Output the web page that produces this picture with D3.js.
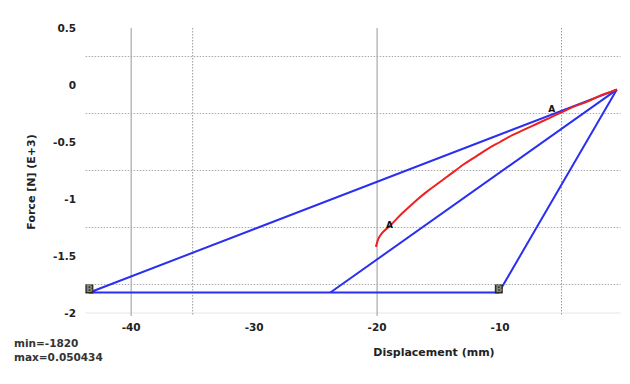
<!DOCTYPE html>
<html><head><meta charset="utf-8">
<script src="https://cdn.jsdelivr.net/npm/d3@7"></script>
<style>body{margin:0;background:#fff}svg{display:block}text{font-family:"DejaVu Sans",Verdana,sans-serif;font-weight:bold;fill:#222}</style>
</head><body>
<script>
// ---- data ----
const yTicks = [0.5, 0, -0.5, -1, -1.5, -2];
const xTicks = [-40, -30, -20, -10];
const xGridSolid = [-40, -20];
const xGridDotted = [-35, -5];
const yGridDotted = [0.25, -0.25, -0.75, -1.25, -1.75];
// blue loop (displacement mm, force kN)
const blueX = [-0.5, -43.4, -10.1, -0.5];
const blueY = [-0.04, -1.82, -1.82, -0.04];
const blue2X = [-23.8, -0.5];
const blue2Y = [-1.82, -0.04];
// red curve
const redX = [-20.1, -19.9, -19.6, -19.0, -18.0, -17.0, -16.0, -15.0, -14.0, -13.0, -12.0, -11.0, -10.0, -9.0, -8.0, -7.0, -6.0, -5.0, -4.0, -3.0, -2.0, -1.0, -0.5];
const redY = [-1.42, -1.35, -1.30, -1.24, -1.13, -1.03, -0.94, -0.86, -0.78, -0.70, -0.63, -0.56, -0.50, -0.44, -0.39, -0.34, -0.29, -0.24, -0.19, -0.15, -0.10, -0.06, -0.04];
// markers
const markLabels = ["A", "A", "B", "B"];
const markX = [-5.8, -19.0, -43.4, -10.1];
const markY = [-0.24, -1.25, -1.82, -1.82];
const minMax = ["min=-1820", "max=0.050434"];
const xTitle = "Displacement (mm)";
const yTitle = "Force [N] (E+3)";

const W = 630, H = 384;
const svg = d3.select("body").append("svg").attr("width", W).attr("height", H);
const x = d3.scaleLinear().domain([-44, 0]).range([82, 623]);
const y = d3.scaleLinear().domain([-2, 0.5]).range([313, 28]);
const xL = x(-43.7), xR = x(-0.2);

// grid
svg.append("line").attr("x1", xL).attr("x2", xR).attr("y1", y(-2)).attr("y2", y(-2))
  .attr("stroke", "#e6e6e6").attr("stroke-width", 1);
svg.selectAll(".hg").data(yGridDotted).join("line")
  .attr("x1", xL).attr("x2", xR).attr("y1", d => y(d)).attr("y2", d => y(d))
  .attr("stroke", "#aaa").attr("stroke-width", 1).attr("stroke-dasharray", "1.5,1.5");
svg.selectAll(".vgs").data(xGridSolid).join("line")
  .attr("x1", d => x(d)).attr("x2", d => x(d)).attr("y1", y(0.5)).attr("y2", y(-2) + 3)
  .attr("stroke", "#aaa").attr("stroke-width", 1.2);
svg.selectAll(".vgd").data(xGridDotted).join("line")
  .attr("x1", d => x(d)).attr("x2", d => x(d)).attr("y1", y(0.5)).attr("y2", y(-2) + 3)
  .attr("stroke", "#999").attr("stroke-width", 1).attr("stroke-dasharray", "1.5,1.5");

// ticks
svg.selectAll(".yt").data(yTicks).join("text")
  .attr("x", 76).attr("y", d => y(d)).attr("dy", "0.35em").attr("text-anchor", "end")
  .attr("font-size", 10.5).text(d => d);
svg.selectAll(".xt").data(xTicks).join("text")
  .attr("x", d => x(d)).attr("y", 331).attr("text-anchor", "middle")
  .attr("font-size", 10.5).text(d => d);
svg.append("text").attr("x", 434).attr("y", 356).attr("text-anchor", "middle")
  .attr("font-size", 11).text(xTitle);
svg.append("text").attr("transform", "translate(35,182) rotate(-90)").attr("text-anchor", "middle")
  .attr("font-size", 11).text(yTitle);
svg.selectAll(".mm").data(minMax).join("text")
  .attr("x", 14).attr("y", (d, i) => 347 + i * 14).attr("font-size", 10.5)
  .style("fill", "#333").text(d => d);

const line = d3.line().x(d => x(d[0])).y(d => y(d[1]));
svg.append("path").datum(d3.zip(blueX, blueY)).attr("d", line)
  .attr("fill", "none").attr("stroke", "#2a2ff0").attr("stroke-width", 2).attr("stroke-linejoin", "round");
svg.append("path").datum(d3.zip(blue2X, blue2Y)).attr("d", line)
  .attr("fill", "none").attr("stroke", "#2a2ff0").attr("stroke-width", 2);
svg.append("path").datum(d3.zip(redX, redY)).attr("d", d3.line().curve(d3.curveMonotoneX).x(d => x(d[0])).y(d => y(d[1])))
  .attr("fill", "none").attr("stroke", "#ee2020").attr("stroke-width", 2);

// markers
const marks = svg.selectAll(".mk").data(d3.range(markLabels.length)).join("g")
  .attr("transform", i => `translate(${x(markX[i])},${y(markY[i])})`);
marks.filter(i => markLabels[i] === "B").append("rect")
  .attr("x", -4).attr("y", -8).attr("width", 8).attr("height", 9).attr("fill", "#2b2b22");
marks.append("text").attr("text-anchor", "middle").attr("y", 0).attr("font-size", 9)
  .style("fill", i => markLabels[i] === "B" ? "#8a8a70" : "#111")
  .text(i => markLabels[i]);
</script>
</body></html>
